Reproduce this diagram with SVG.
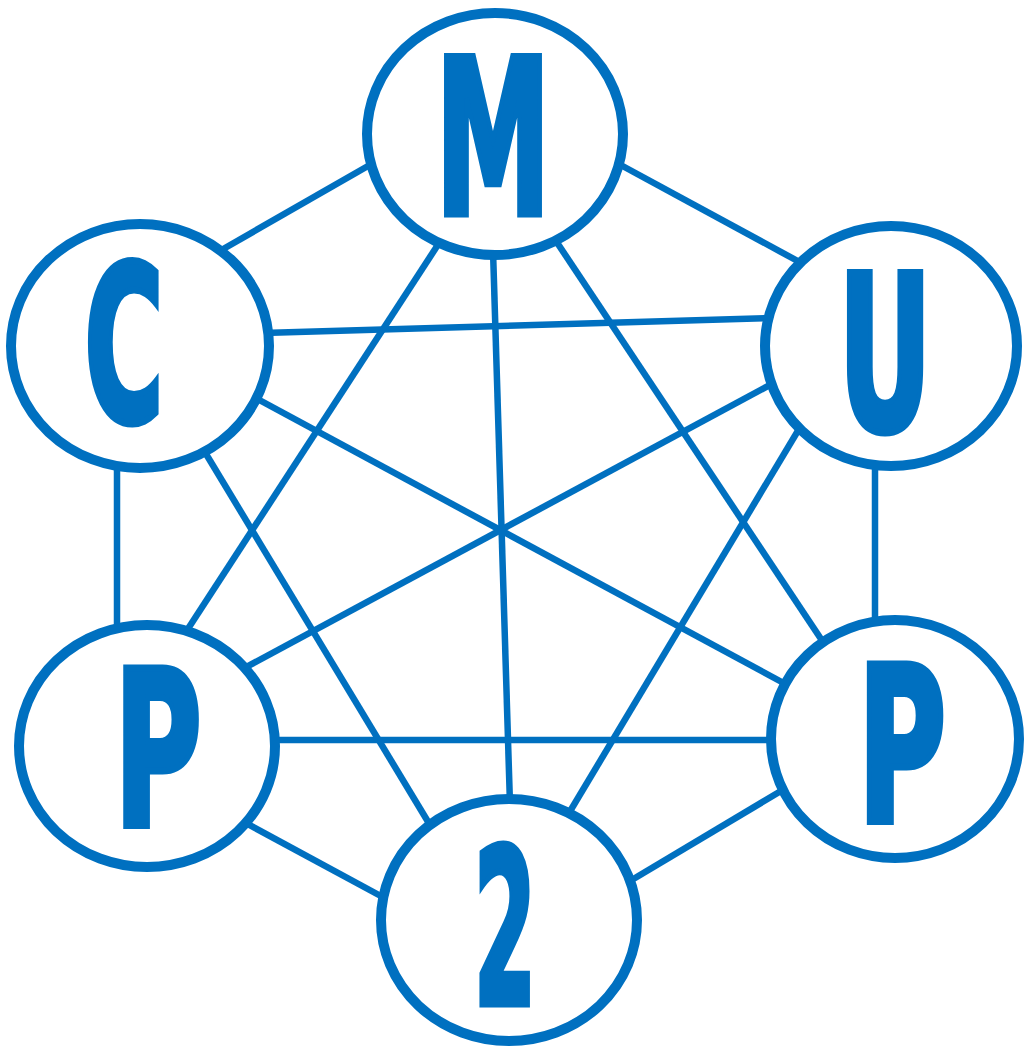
<svg xmlns="http://www.w3.org/2000/svg" width="1026" height="1048" viewBox="0 0 1026 1048">
<style>
.e{stroke:#0070C0;stroke-width:6.5;fill:none;stroke-linecap:butt}
.n{fill:#fff;stroke:#0070C0;stroke-width:10}
.t{fill:#0070C0;stroke:#0070C0;stroke-width:7;stroke-linejoin:miter;font-family:"DejaVu Sans Condensed","DejaVu Sans",sans-serif;font-weight:bold;font-size:216px;text-anchor:middle}
</style>
<rect width="1026" height="1048" fill="#fff"/>
<g id="edges">
<line class="e" x1="218" y1="252" x2="375" y2="162"/>
<line class="e" x1="617" y1="163" x2="805" y2="265"/>
<line class="e" x1="263" y1="333" x2="773" y2="318"/>
<line class="e" x1="117" y1="460" x2="117" y2="633"/>
<line class="e" x1="875" y1="460" x2="875" y2="628"/>
<line class="e" x1="268" y1="740" x2="780" y2="740"/>
<line class="e" x1="242" y1="821" x2="390" y2="901"/>
<line class="e" x1="625" y1="884" x2="786" y2="788"/>
<line class="e" x1="443" y1="237" x2="182" y2="638"/>
<line class="e" x1="493" y1="250" x2="510" y2="805"/>
<line class="e" x1="552" y1="235" x2="827" y2="648"/>
<line class="e" x1="200" y1="444" x2="433" y2="830"/>
<line class="e" x1="252" y1="396" x2="791" y2="687"/>
<line class="e" x1="781" y1="379" x2="237" y2="672"/>
<line class="e" x1="802" y1="424" x2="566" y2="818"/>
</g>
<g id="node-M"><ellipse class="n" cx="495" cy="134" rx="128" ry="121"/><text class="t" x="493" y="214" textLength="115" lengthAdjust="spacingAndGlyphs">M</text></g>
<g id="node-U"><ellipse class="n" cx="891" cy="346" rx="126" ry="120"/><text class="t" x="885" y="430" textLength="93" lengthAdjust="spacingAndGlyphs">U</text></g>
<g id="node-P-right"><ellipse class="n" cx="895" cy="739" rx="124" ry="119"/><text class="t" x="902" y="822" textLength="88" lengthAdjust="spacingAndGlyphs">P</text></g>
<g id="node-2"><ellipse class="n" cx="509" cy="920" rx="128" ry="121"/><text class="t" x="505" y="1004" textLength="62" lengthAdjust="spacingAndGlyphs">2</text></g>
<g id="node-P-left"><ellipse class="n" cx="147" cy="746" rx="128" ry="121"/><text class="t" x="158" y="826" textLength="87" lengthAdjust="spacingAndGlyphs">P</text></g>
<g id="node-C"><ellipse class="n" cx="140" cy="346" rx="129" ry="122"/><text class="t" x="124" y="421" textLength="79" lengthAdjust="spacingAndGlyphs">C</text></g>
</svg>
